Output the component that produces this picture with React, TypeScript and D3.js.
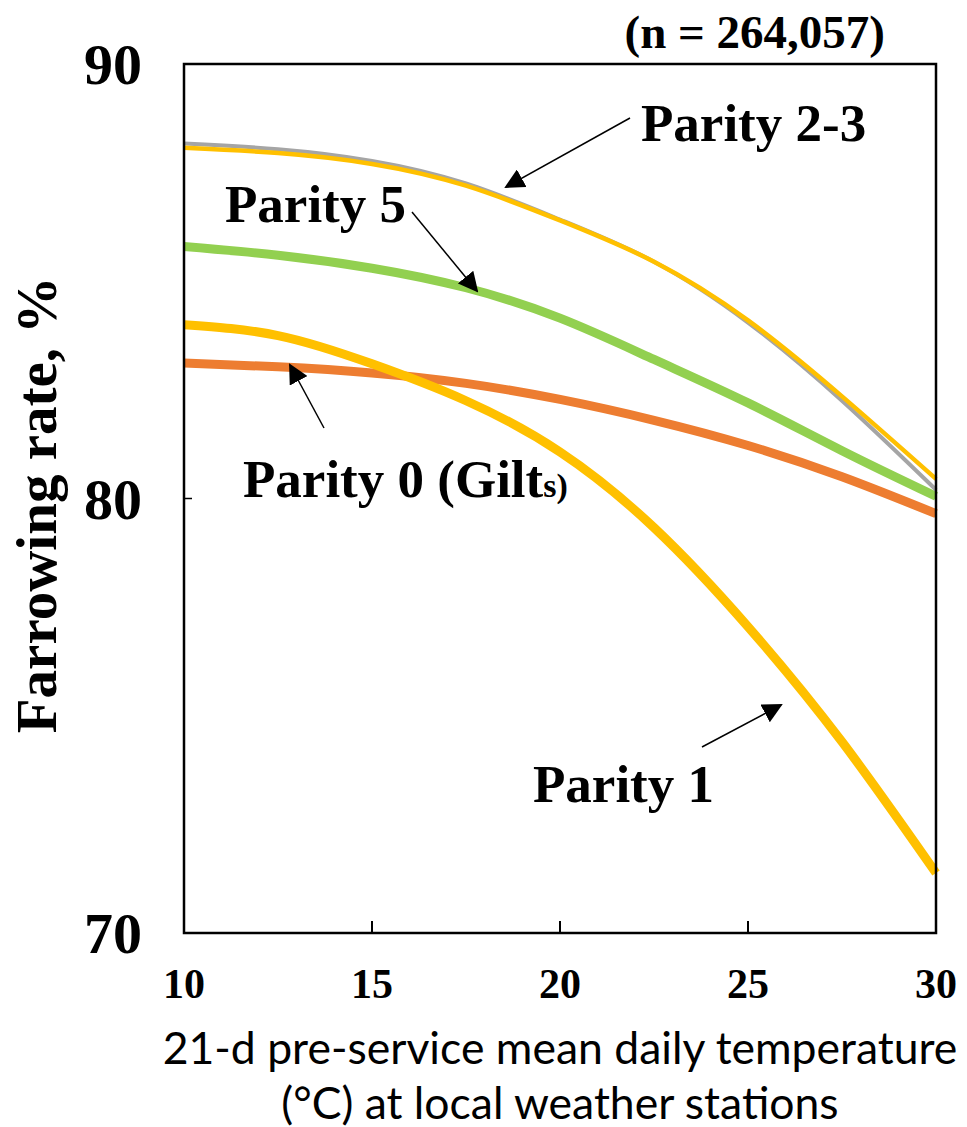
import React, { useEffect, useRef } from "react";
import * as d3 from "d3";

// temperatures (°C) where the curves were read
const temps = [10, 12.5, 15, 17.5, 20, 22.5, 25, 27.5, 30];

const parity23 = [88.07, 87.95, 87.7, 87.2, 86.4, 85.45, 84.1, 82.35, 80.45];
const parityGray = [88.17, 88.04, 87.77, 87.25, 86.42, 85.45, 84.05, 82.25, 80.2];
const parity5 = [85.8, 85.6, 85.3, 84.85, 84.15, 83.2, 82.2, 81.1, 80.05];
const parity0 = [83.12, 83.03, 82.89, 82.65, 82.28, 81.8, 81.22, 80.5, 79.65];
const parity1 = [84.0, 83.75, 83.1, 82.25, 81.07, 79.33, 77.05, 74.4, 71.38];

const xTicks = [10, 15, 20, 25, 30];
const yTicks = [70, 80, 90];

const serif = "'Liberation Serif', 'Times New Roman', serif";

const App = () => {
  const ref = useRef(null);

  useEffect(() => {
    const svg = d3.select(ref.current);
    svg.selectAll("*").remove();

    const x = d3.scaleLinear().domain([10, 30]).range([184, 936]);
    const y = d3.scaleLinear().domain([70, 90]).range([933, 64]);

    svg
      .append("defs")
      .append("marker")
      .attr("id", "arr")
      .attr("viewBox", "0 0 10 10")
      .attr("refX", 9)
      .attr("refY", 5)
      .attr("markerWidth", 20)
      .attr("markerHeight", 20)
      .attr("markerUnits", "userSpaceOnUse")
      .attr("orient", "auto")
      .append("path")
      .attr("d", "M0,0L10,5L0,10z")
      .attr("fill", "#000");

    // series, drawn bottom to top
    const series = [
      { vals: parity0, color: "#ED7D31", w: 9 },
      { vals: parity5, color: "#92D050", w: 9 },
      { vals: parity1, color: "#FFC000", w: 9 },
      { vals: parityGray, color: "#A5A5A5", w: 4 },
      { vals: parity23, color: "#FFC000", w: 4.5 },
    ];

    const line = d3
      .line<number>()
      .x((d, i) => x(temps[i]))
      .y((d) => y(d))
      .curve(d3.curveNatural);

    svg
      .append("g")
      .selectAll("path")
      .data(series)
      .enter()
      .append("path")
      .attr("d", (s) => line(s.vals))
      .attr("fill", "none")
      .attr("stroke", (s) => s.color)
      .attr("stroke-width", (s) => s.w);

    // frame
    svg
      .append("rect")
      .attr("x", x(10))
      .attr("y", y(90))
      .attr("width", x(30) - x(10))
      .attr("height", y(70) - y(90))
      .attr("fill", "none")
      .attr("stroke", "#000")
      .attr("stroke-width", 2.5);

    // ticks point inward
    svg
      .append("g")
      .selectAll("line")
      .data(xTicks)
      .enter()
      .append("line")
      .attr("x1", (d) => x(d))
      .attr("x2", (d) => x(d))
      .attr("y1", y(70))
      .attr("y2", y(70) - 12)
      .attr("stroke", "#000")
      .attr("stroke-width", 2);

    svg
      .append("g")
      .selectAll("line")
      .data(yTicks)
      .enter()
      .append("line")
      .attr("x1", x(10))
      .attr("x2", x(10) + 8)
      .attr("y1", (d) => y(d))
      .attr("y2", (d) => y(d))
      .attr("stroke", "#000")
      .attr("stroke-width", 1.5);

    svg
      .append("g")
      .selectAll("text")
      .data(xTicks)
      .enter()
      .append("text")
      .attr("x", (d) => x(d))
      .attr("y", 998)
      .attr("text-anchor", "middle")
      .attr("font-family", serif)
      .attr("font-weight", "bold")
      .attr("font-size", 42)
      .text((d) => d);

    svg
      .append("g")
      .selectAll("text")
      .data(yTicks)
      .enter()
      .append("text")
      .attr("x", 142)
      .attr("y", (d) => y(d) + 20)
      .attr("text-anchor", "end")
      .attr("font-family", serif)
      .attr("font-weight", "bold")
      .attr("font-size", 58)
      .text((d) => d);

    // axis titles
    svg
      .append("text")
      .attr("transform", "translate(56,505) rotate(-90)")
      .attr("text-anchor", "middle")
      .attr("font-family", serif)
      .attr("font-weight", "bold")
      .attr("font-size", 57)
      .text("Farrowing  rate, %");

    const xt = svg
      .append("text")
      .attr("text-anchor", "middle")
      .attr("font-family", "Lato, 'Open Sans', sans-serif")
      .attr("font-size", 44.5)
      .attr("fill", "#000");
    xt.append("tspan").attr("x", 560).attr("y", 1064).text("21-d pre-service mean daily temperature");
    xt.append("tspan").attr("x", 560).attr("y", 1119).text("(°C) at local weather stations");

    svg
      .append("text")
      .attr("x", 885)
      .attr("y", 48)
      .attr("text-anchor", "end")
      .attr("font-family", serif)
      .attr("font-weight", "bold")
      .attr("font-size", 47)
      .text("(n = 264,057)");

    // labels + arrows
    const labels = [
      { t: "Parity 2-3", lx: 641, ly: 141, a: [630, 118, 506, 187] },
      { t: "Parity 5", lx: 225, ly: 222, a: [412, 212, 477, 291] },
      { t: "Parity 1", lx: 533, ly: 802, a: [702, 747, 781, 705] },
    ];
    labels.forEach((l) => {
      svg
        .append("text")
        .attr("x", l.lx)
        .attr("y", l.ly)
        .attr("font-family", serif)
        .attr("font-weight", "bold")
        .attr("font-size", 53)
        .text(l.t);
      svg
        .append("line")
        .attr("x1", l.a[0])
        .attr("y1", l.a[1])
        .attr("x2", l.a[2])
        .attr("y2", l.a[3])
        .attr("stroke", "#000")
        .attr("stroke-width", 1.5)
        .attr("marker-end", "url(#arr)");
    });

    const g0 = svg
      .append("text")
      .attr("x", 243)
      .attr("y", 497)
      .attr("font-family", serif)
      .attr("font-weight", "bold")
      .attr("font-size", 53);
    g0.append("tspan").text("Parity 0 (Gilt");
    g0.append("tspan").attr("font-size", 34).text("s)");
    svg
      .append("line")
      .attr("x1", 324)
      .attr("y1", 428)
      .attr("x2", 290)
      .attr("y2", 365)
      .attr("stroke", "#000")
      .attr("stroke-width", 1.5)
      .attr("marker-end", "url(#arr)");
  }, []);

  return (
    <svg
      ref={ref}
      width={967}
      height={1127}
      style={{ position: "absolute", left: 0, top: 0, background: "#fff" }}
    />
  );
};

export default App;
